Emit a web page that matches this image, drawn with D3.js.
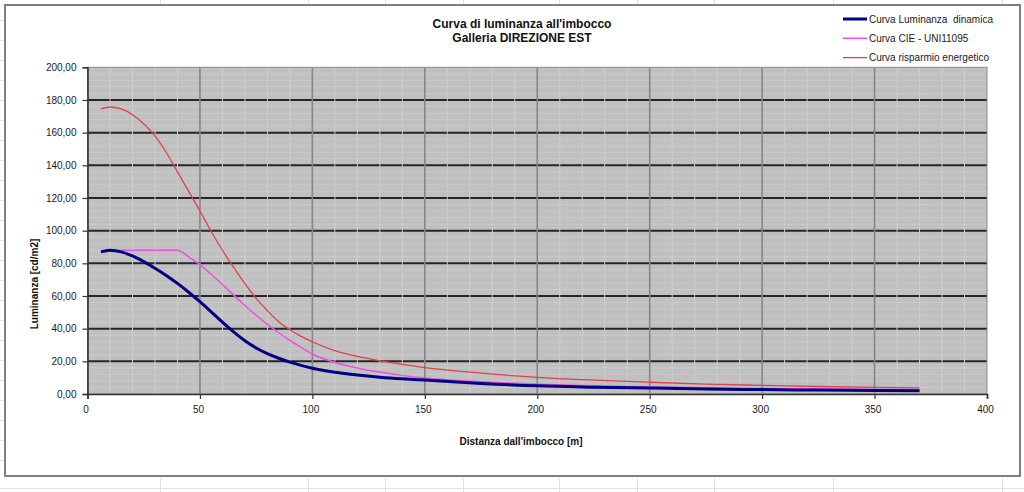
<!DOCTYPE html>
<html>
<head>
<meta charset="utf-8">
<script src="https://cdn.jsdelivr.net/npm/d3@7"></script>
<style>
  html, body { margin: 0; padding: 0; background: #fff; }
  svg { display: block; font-family: "Liberation Sans", Arial, sans-serif; }
  text { white-space: pre; }
</style>
</head>
<body>
<svg id="chart" width="1024" height="492"></svg>
<script>
// ---- data ----
const titleLines = ["Curva di luminanza all'imbocco", "Galleria DIREZIONE EST"];
const xTitle = "Distanza dall'imbocco [m]";
const yTitle = "Luminanza [cd/m2]";
const seriesNames = ["Curva Luminanza  dinamica", "Curva CIE - UNI11095", "Curva risparmio energetico"];
const xTicks = [0, 50, 100, 150, 200, 250, 300, 350, 400];
const yTicks = [0, 20, 40, 60, 80, 100, 120, 140, 160, 180, 200];

const distance = [6, 10, 15, 20, 25, 30, 35, 40, 45, 50, 55, 60, 65, 70, 75, 80, 85, 90, 95, 100,
                  110, 120, 130, 140, 150, 175, 200, 225, 250, 275, 300, 325, 350, 370];
const lumDinamica = [87, 88, 87, 84.5, 81, 77, 72.6, 67.7, 62.3, 56.5, 50.3, 44, 38, 32.6, 28.2, 24.7, 21.9, 19.5, 17.5, 15.8,
                     13.3, 11.6, 10.3, 9.3, 8.5, 6.5, 5.0, 4.2, 3.6, 3.1, 2.7, 2.4, 2.2, 2.0];
const cieUni = [87.5, 88, 88, 88, 88, 88, 88, 88, 84, 79, 73.3, 67, 60.5, 54.2, 48.2, 42.6, 37.5, 32.8, 28.5, 24.5,
                19.3, 15.9, 13.4, 11.4, 9.8, 7.5, 6.0, 5.0, 4.3, 3.8, 3.4, 3.1, 2.8, 2.6];
const risparmio = [174.5, 175.7, 174.5, 171, 165.5, 158, 148, 136, 124, 112, 99.5, 88, 77.5, 67.5, 58.5, 51, 44.3, 39.3, 35.3, 32,
                   26.5, 23, 20.4, 18.1, 16.1, 12.8, 10.2, 8.5, 7.2, 6.1, 5.3, 4.6, 4.1, 3.8];

// ---- layout ----
const svg = d3.select("#chart");
const W = 1024, H = 492;
const plot = { left: 87.5, right: 987, top: 67.3, bottom: 394 };
const x = d3.scaleLinear().domain([0, 400]).range([plot.left, plot.right]);
const y = d3.scaleLinear().domain([0, 200]).range([plot.bottom, plot.top]);

// spreadsheet background lines (outside chart)
const sheet = svg.append("g").attr("stroke", "#e2e2e2").attr("stroke-width", 1);
[160, 308, 385, 463, 559, 637, 714, 833, 1002].forEach(px => {
  sheet.append("line").attr("x1", px + 0.5).attr("x2", px + 0.5).attr("y1", 0).attr("y2", 5);
  sheet.append("line").attr("x1", px + 0.5).attr("x2", px + 0.5).attr("y1", 478).attr("y2", 492);
});
sheet.append("line").attr("x1", 0).attr("x2", W).attr("y1", 488.5).attr("y2", 488.5);
d3.range(20, 478, 20).forEach(py => {
  sheet.append("line").attr("x1", 0).attr("x2", 4).attr("y1", py + 0.5).attr("y2", py + 0.5);
});

// chart frame
svg.append("rect").attr("x", 5).attr("y", 5).attr("width", 1015).attr("height", 471)
  .attr("fill", "#fff").attr("stroke", "#7f7f7f").attr("stroke-width", 2);

// plot area
svg.append("rect").attr("x", plot.left).attr("y", plot.top)
  .attr("width", plot.right - plot.left).attr("height", plot.bottom - plot.top)
  .attr("fill", "#c0c0c0");

const grid = svg.append("g");
// minor horizontal
grid.selectAll(".mh").data(d3.range(4, 200, 4).filter(v => v % 20 !== 0)).join("line")
  .attr("x1", plot.left).attr("x2", plot.right)
  .attr("y1", d => y(d)).attr("y2", d => y(d))
  .attr("stroke", "#cacaca").attr("stroke-width", 1);
// major horizontal
grid.selectAll(".Mh").data(yTicks.filter(v => v > 0 && v < 200)).join("line")
  .attr("x1", plot.left).attr("x2", plot.right)
  .attr("y1", d => y(d)).attr("y2", d => y(d))
  .attr("stroke", "#262626").attr("stroke-width", 2);
// minor vertical
grid.selectAll(".mv").data(d3.range(10, 400, 10).filter(v => v % 50 !== 0)).join("line")
  .attr("y1", plot.top).attr("y2", plot.bottom)
  .attr("x1", d => x(d)).attr("x2", d => x(d))
  .attr("stroke", "#cecece").attr("stroke-width", 1);
// major vertical
grid.selectAll(".Mv").data(xTicks.filter(v => v > 0 && v < 400)).join("line")
  .attr("y1", plot.top).attr("y2", plot.bottom)
  .attr("x1", d => x(d)).attr("x2", d => x(d))
  .attr("stroke", "#868686").attr("stroke-width", 1.6);
// plot border
svg.append("rect").attr("x", plot.left).attr("y", plot.top)
  .attr("width", plot.right - plot.left).attr("height", plot.bottom - plot.top)
  .attr("fill", "none").attr("stroke", "#8a8a8a").attr("stroke-width", 1);

// axes
const fmt = d => d.toFixed(2).replace(".", ",");
const yAxis = svg.append("g").attr("transform", `translate(${plot.left},0)`)
  .call(d3.axisLeft(y).tickValues(yTicks).tickFormat(fmt).tickSize(5).tickPadding(6));
const xAxis = svg.append("g").attr("transform", `translate(0,${plot.bottom})`)
  .call(d3.axisBottom(x).tickValues(xTicks).tickFormat(d3.format("d")).tickSize(5).tickPadding(7));
[yAxis, xAxis].forEach(a => {
  a.select(".domain").attr("stroke", "#333").attr("stroke-width", 1.6);
  a.selectAll(".tick line").attr("stroke", "#333").attr("stroke-width", 1.2);
  a.selectAll(".tick text").attr("fill", "#1a1a1a").attr("font-size", 10)
    .attr("font-family", "Liberation Sans, Arial, sans-serif");
});
xAxis.selectAll(".tick text").attr("dx", -2);

// lines
const line = vals => d3.line().curve(d3.curveMonotoneX)
  .x((d, i) => x(distance[i])).y(d => y(d))(vals);
const series = [
  { name: seriesNames[2], vals: risparmio, color: "#e0404c", width: 1.3 },
  { name: seriesNames[1], vals: cieUni, color: "#ec4fe6", width: 1.5 },
  { name: seriesNames[0], vals: lumDinamica, color: "#000080", width: 3 }
];
series.forEach(s => {
  svg.append("path").attr("d", line(s.vals)).attr("fill", "none")
    .attr("stroke", s.color).attr("stroke-width", s.width).attr("stroke-linejoin", "round");
});

// titles
svg.append("text").attr("x", 522).attr("y", 28).attr("text-anchor", "middle")
  .attr("font-size", 12).attr("font-weight", "bold").attr("fill", "#111").text(titleLines[0]);
svg.append("text").attr("x", 522).attr("y", 42).attr("text-anchor", "middle")
  .attr("font-size", 12).attr("font-weight", "bold").attr("fill", "#111").text(titleLines[1]);
svg.append("text").attr("x", 521).attr("y", 445).attr("text-anchor", "middle")
  .attr("font-size", 10).attr("font-weight", "bold").attr("fill", "#111").text(xTitle);
svg.append("text").attr("transform", "translate(38,284) rotate(-90)").attr("text-anchor", "middle")
  .attr("font-size", 10).attr("font-weight", "bold").attr("fill", "#111").text(yTitle);

// legend
const legend = [
  { name: seriesNames[0], color: "#000080", width: 3 },
  { name: seriesNames[1], color: "#ec4fe6", width: 1.5 },
  { name: seriesNames[2], color: "#e0404c", width: 1.3 }
];
legend.forEach((l, i) => {
  const cy = 19 + i * 19.3;
  svg.append("line").attr("x1", 843).attr("x2", 867).attr("y1", cy).attr("y2", cy)
    .attr("stroke", l.color).attr("stroke-width", l.width);
  svg.append("text").attr("x", 869).attr("y", cy + 3.6).attr("font-size", 10)
    .attr("fill", "#1a1a1a").text(l.name);
});
</script>
</body>
</html>
